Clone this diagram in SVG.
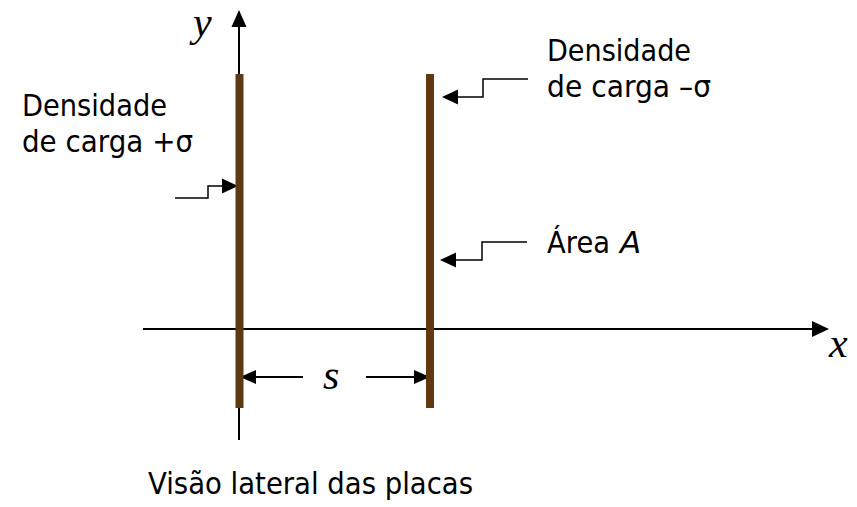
<svg xmlns="http://www.w3.org/2000/svg" width="857" height="507" viewBox="0 0 857 507">
<defs>
<style>
.lbl{font-family:"DejaVu Sans",Tahoma,Verdana,sans-serif;font-size:31px;fill:#000}
.var{font-family:"Liberation Serif","Times New Roman",serif;font-style:italic;font-size:42px;fill:#000}
.ax{stroke:#000;stroke-width:2;fill:none}
.ln{stroke:#000;stroke-width:1.5;fill:none}
.plate{fill:#603913}
.ah{fill:#000}
</style>
</defs>
<rect width="857" height="507" fill="#fff"/>
<g id="connectors">
<line class="ax" x1="239" y1="440" x2="239" y2="24"/>
<polygon class="ah" points="239,10 231.5,27 246.5,27"/>
<line class="ax" x1="143" y1="329" x2="815" y2="329"/>
<polygon class="ah" points="829,329 812,321 812,337"/>
<polyline class="ln" points="175,198 208,198 208,186 224,186"/>
<polygon class="ah" points="238,186 222,178.5 222,193.5"/>
<polyline class="ln" points="528,79 483,79 483,97 456,97"/>
<polygon class="ah" points="442,97 458,89.5 458,104.5"/>
<polyline class="ln" points="527,242 482,242 482,260 454,260"/>
<polygon class="ah" points="440,260 456,252.5 456,267.5"/>
<line class="ax" x1="303" y1="377" x2="254" y2="377"/>
<polygon class="ah" points="240,377 256,370 256,384"/>
<line class="ax" x1="366" y1="377" x2="416" y2="377"/>
<polygon class="ah" points="430,377 414,370 414,384"/>
</g>
<g id="plate-plus">
<rect class="plate" x="235.5" y="74" width="8" height="334"/>
</g>
<g id="plate-minus">
<rect class="plate" x="426" y="74" width="8" height="334"/>
</g>
<g id="label-plus">
<text class="lbl" x="22" y="116" textLength="145" lengthAdjust="spacingAndGlyphs">Densidade</text>
<text class="lbl" x="22" y="152" textLength="171" lengthAdjust="spacingAndGlyphs">de carga +σ</text>
</g>
<g id="label-minus">
<text class="lbl" x="547" y="61" textLength="144" lengthAdjust="spacingAndGlyphs">Densidade</text>
<text class="lbl" x="547" y="97" textLength="164" lengthAdjust="spacingAndGlyphs">de carga –σ</text>
</g>
<g id="label-area">
<text class="lbl" x="547" y="253" textLength="63" lengthAdjust="spacingAndGlyphs">Área</text>
<text class="lbl" x="620" y="253" font-style="italic">A</text>
</g>
<g id="axis-labels">
<text class="var" x="193" y="36" font-size="40">y</text>
<text class="var" x="829" y="357">x</text>
<text class="var" x="323" y="389">s</text>
</g>
<g id="caption">
<text class="lbl" x="148" y="494" textLength="325" lengthAdjust="spacingAndGlyphs">Visão lateral das placas</text>
</g>
</svg>
